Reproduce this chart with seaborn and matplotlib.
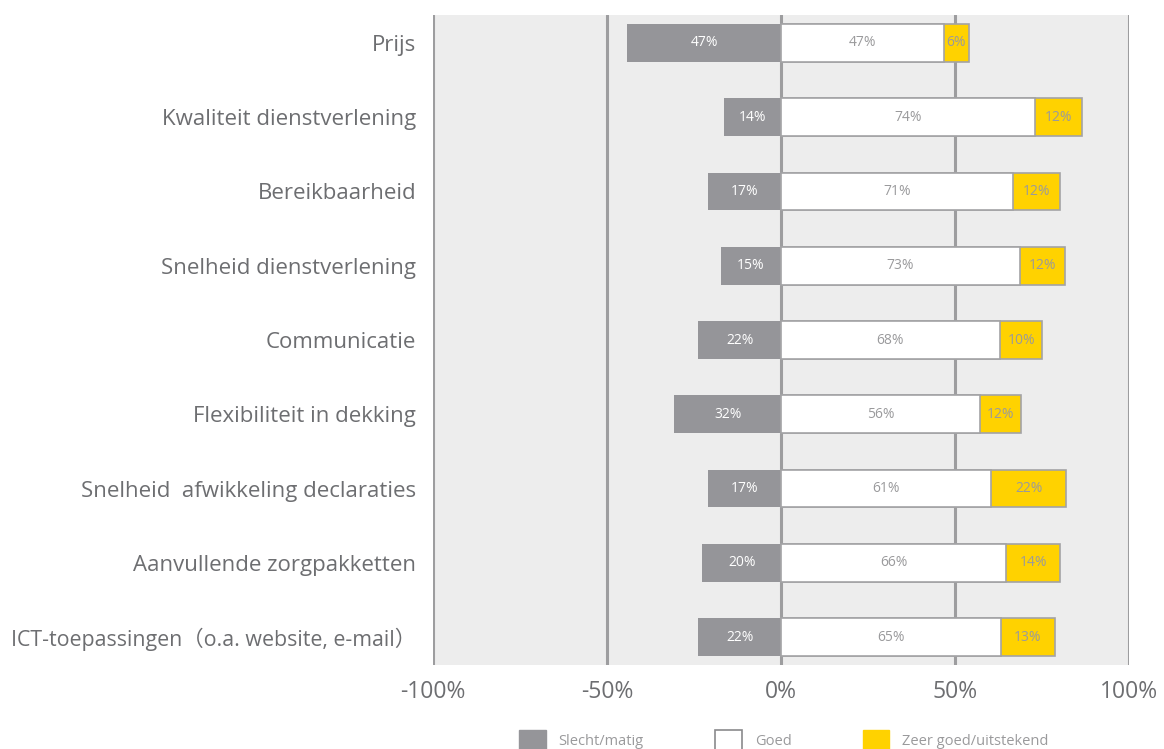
import numpy as np
import pandas as pd
import matplotlib
matplotlib.use('Agg')
import matplotlib.pyplot as plt
import seaborn as sns
from matplotlib.patches import Patch

# Data
categories = [
    'Prijs',
    'Kwaliteit dienstverlening',
    'Bereikbaarheid',
    'Snelheid dienstverlening',
    'Communicatie',
    'Flexibiliteit in dekking',
    'Snelheid  afwikkeling declaraties',
    'Aanvullende zorgpakketten',
    'ICT-toepassingen（o.a. website, e-mail）',
]

# percentages printed in the bars
slecht_labels = [47, 14, 17, 15, 22, 32, 17, 20, 22]
goed_labels = [47, 74, 71, 73, 68, 56, 61, 66, 65]
zeer_labels = [6, 12, 12, 12, 10, 12, 22, 14, 13]

# bar lengths as drawn in the chart (these differ from the printed numbers)
slecht_len = [44.2, 16.3, 20.9, 17.2, 23.8, 30.7, 20.9, 22.6, 23.8]
goed_len = [46.8, 73.0, 66.8, 68.6, 62.9, 57.3, 60.3, 64.7, 63.3]
zeer_len = [7.1, 13.5, 13.5, 13.0, 12.2, 11.8, 21.7, 15.6, 15.3]

legend_labels = ['Slecht/matig', 'Goed', 'Zeer goed/uitstekend']
xticks = [-100, -50, 0, 50, 100]

# Kleuren
grey = '#959599'
yellow = '#ffd200'
edge = '#a3a3a5'
text_grey = '#6d6e71'
label_grey = '#9a9a9c'

df = pd.DataFrame({
    'cat': categories,
    'slecht': -np.array(slecht_len),
    'goed': goed_len,
    'totaal': np.array(goed_len) + np.array(zeer_len),
})

sns.set_theme(style='white')
plt.rcParams['font.family'] = ['Open Sans', 'Noto Sans CJK JP', 'DejaVu Sans']

fig, ax = plt.subplots(figsize=(11.64, 7.49), dpi=100)
fig.subplots_adjust(left=433 / 1164, right=1129 / 1164, top=1 - 15 / 749, bottom=1 - 665 / 749)
ax.set_facecolor('#ededed')

bar_w = 0.51
sns.barplot(data=df, y='cat', x='slecht', orient='h', color=grey, saturation=1,
            width=bar_w, linewidth=0, ax=ax, zorder=3)
sns.barplot(data=df, y='cat', x='totaal', orient='h', color=yellow, saturation=1,
            width=bar_w, edgecolor=edge, linewidth=1.2, ax=ax, zorder=3)
sns.barplot(data=df, y='cat', x='goed', orient='h', color='white', saturation=1,
            width=bar_w, edgecolor=edge, linewidth=1.2, ax=ax, zorder=4)

# labels in de balken
for i in range(len(categories)):
    ax.text(-slecht_len[i] / 2, i, f'{slecht_labels[i]}%', ha='center', va='center',
            color='white', fontsize=10, zorder=5)
    ax.text(goed_len[i] / 2, i, f'{goed_labels[i]}%', ha='center', va='center',
            color=label_grey, fontsize=10, zorder=5)
    ax.text(goed_len[i] + zeer_len[i] / 2, i, f'{zeer_labels[i]}%', ha='center', va='center',
            color=label_grey, fontsize=10, zorder=5)

for x in xticks:
    ax.axvline(x, color='#9d9d9f', linewidth=2.2, zorder=1)

ax.set_xlim(-100, 100)
ax.set_ylim(len(categories) - 1 + 0.377, -0.377)
ax.set_xticks(xticks)
ax.set_xticklabels([f'{x}%' for x in xticks], fontsize=16.5, color=text_grey)
ax.tick_params(axis='x', length=0, pad=11)
ax.tick_params(axis='y', length=0, pad=12, labelsize=16, labelcolor=text_grey)
# de lange ICT-label iets kleiner zodat hij past
ax.get_yticklabels()[-1].set_fontsize(15.4)
ax.set_xlabel('')
ax.set_ylabel('')
for s in ax.spines.values():
    s.set_visible(False)

handles = [
    Patch(facecolor=grey, edgecolor=grey),
    Patch(facecolor='white', edgecolor='#8a8a8c', linewidth=1.2),
    Patch(facecolor=yellow, edgecolor=yellow),
]
fig.legend(handles, legend_labels, loc='center', bbox_to_anchor=(784 / 1164, 1 - 740 / 749),
           ncol=3, frameon=False, fontsize=10.5, labelcolor=label_grey,
           handlelength=1.8, handleheight=1.8, handletextpad=0.9, columnspacing=4.9)

plt.savefig('out.png', dpi=100)
